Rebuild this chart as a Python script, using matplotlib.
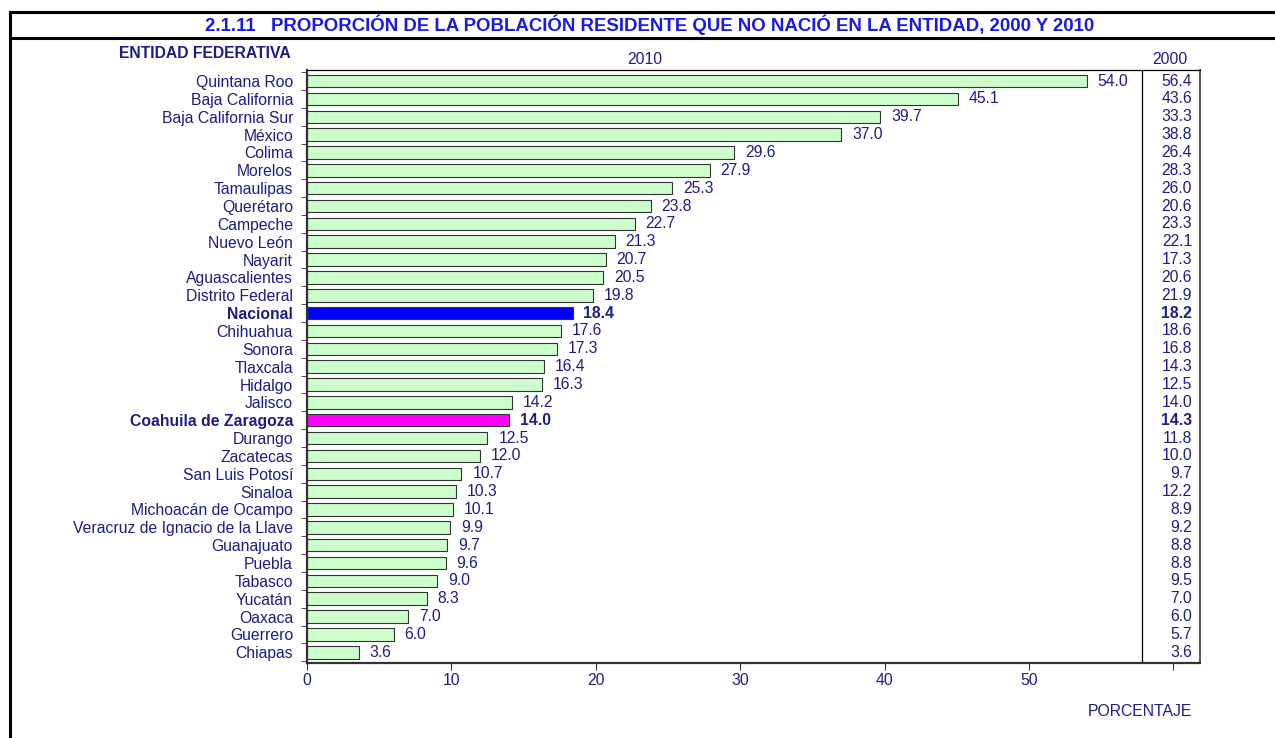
import numpy as np
import matplotlib.pyplot as plt
from matplotlib.lines import Line2D

# ========================
# DATA
# ========================
entidades = [
    "Quintana Roo", "Baja California", "Baja California Sur", "México", "Colima",
    "Morelos", "Tamaulipas", "Querétaro", "Campeche", "Nuevo León", "Nayarit",
    "Aguascalientes", "Distrito Federal", "Nacional", "Chihuahua", "Sonora",
    "Tlaxcala", "Hidalgo", "Jalisco", "Coahuila de Zaragoza", "Durango",
    "Zacatecas", "San Luis Potosí", "Sinaloa", "Michoacán de Ocampo",
    "Veracruz de Ignacio de la Llave", "Guanajuato", "Puebla", "Tabasco",
    "Yucatán", "Oaxaca", "Guerrero", "Chiapas",
]
valores_2010 = [54.0, 45.1, 39.7, 37.0, 29.6, 27.9, 25.3, 23.8, 22.7, 21.3, 20.7,
                20.5, 19.8, 18.4, 17.6, 17.3, 16.4, 16.3, 14.2, 14.0, 12.5, 12.0,
                10.7, 10.3, 10.1, 9.9, 9.7, 9.6, 9.0, 8.3, 7.0, 6.0, 3.6]
valores_2000 = [56.4, 43.6, 33.3, 38.8, 26.4, 28.3, 26.0, 20.6, 23.3, 22.1, 17.3,
                20.6, 21.9, 18.2, 18.6, 16.8, 14.3, 12.5, 14.0, 14.3, 11.8, 10.0,
                9.7, 12.2, 8.9, 9.2, 8.8, 8.8, 9.5, 7.0, 6.0, 5.7, 3.6]
destacados = {"Nacional": "#0000ff", "Coahuila de Zaragoza": "#ff00ff"}

# ========================
# STYLE
# ========================
plt.rcParams["font.family"] = ["Liberation Sans", "DejaVu Sans"]
NAVY = "#1c1c8a"
TITLE_BLUE = "#1a1ae6"
BAR_GREEN = "#ccffcc"
FS = 11.3

fig = plt.figure(figsize=(12.75, 7.38), dpi=100)
ax = fig.add_axes([307 / 1275, 1 - 663 / 738, (1200 - 307) / 1275, (663 - 70) / 738])

y = np.arange(len(entidades))
colores = [destacados.get(e, BAR_GREEN) for e in entidades]
ax.barh(y, valores_2010, height=0.7, color=colores, edgecolor="#333333", linewidth=0.8, zorder=2)

x_max = 61.85
ax.set_xlim(0, x_max)
ax.set_ylim(len(entidades) - 0.4, -0.62)

# value labels 2010
for i, (e, v) in enumerate(zip(entidades, valores_2010)):
    bold = e in destacados
    ax.text(v + 0.75, i, f"{v:.1f}", va="center", ha="left", fontsize=FS, color=NAVY,
            fontweight="bold" if bold else "normal")

# 2000 column
col_left = 57.8
ax.axvline(col_left, color="black", linewidth=0.9)
for i, (e, v) in enumerate(zip(entidades, valores_2000)):
    bold = e in destacados
    ax.text(61.3, i, f"{v:.1f}", va="center", ha="right", fontsize=FS, color=NAVY,
            fontweight="bold" if bold else "normal")

# axes
ax.set_yticks(y)
ax.set_yticklabels(entidades, fontsize=FS, color=NAVY)
for lbl, e in zip(ax.get_yticklabels(), entidades):
    if e in destacados:
        lbl.set_fontweight("bold")
ax.tick_params(axis="y", length=0, pad=10)
ax.set_yticks(np.arange(len(entidades) + 1) - 0.5, minor=True)
ax.tick_params(axis="y", which="minor", length=4, direction="out", color="#333333")

ax.set_xticks([0, 10, 20, 30, 40, 50, 60])
ax.set_xticklabels(["0", "10", "20", "30", "40", "50", ""], fontsize=FS, color=NAVY)
ax.tick_params(axis="x", length=5, direction="out", color="#333333", pad=2)

for s in ax.spines.values():
    s.set_color("black")
    s.set_linewidth(0.9)
ax.spines["bottom"].set_color("#333333")
ax.spines["bottom"].set_linewidth(1.6)
ax.spines["left"].set_color("#333333")
ax.spines["left"].set_linewidth(1.6)
ax.spines["right"].set_color("#555555")
ax.spines["right"].set_linewidth(1.4)

# headers
fig.text(645 / 1275, 1 - 60 / 738, "2010", fontsize=FS, color=NAVY, ha="center", va="center")
fig.text(1170 / 1275, 1 - 60 / 738, "2000", fontsize=FS, color=NAVY, ha="center", va="center")
fig.text(205 / 1275, 1 - 53 / 738, "ENTIDAD FEDERATIVA", fontsize=FS, color=NAVY,
         fontweight="bold", ha="center", va="center")
fig.text(1140 / 1275, 1 - 712 / 738, "PORCENTAJE", fontsize=FS, color=NAVY,
         ha="center", va="center")
fig.text(650 / 1275, 1 - 25 / 738,
         "2.1.11   PROPORCIÓN DE LA POBLACIÓN RESIDENTE QUE NO NACIÓ EN LA ENTIDAD, 2000 Y 2010",
         fontsize=13.4, color=TITLE_BLUE, fontweight="bold", ha="center", va="center")

# frame
for xs, ys in [([10 / 1275, 1], [1 - 12 / 738] * 2),
               ([10 / 1275, 1], [1 - 38 / 738] * 2),
               ([10 / 1275] * 2, [0, 1 - 12 / 738])]:
    fig.add_artist(Line2D(xs, ys, color="black", linewidth=2.2, transform=fig.transFigure))

fig.savefig("out.png", dpi=100)
